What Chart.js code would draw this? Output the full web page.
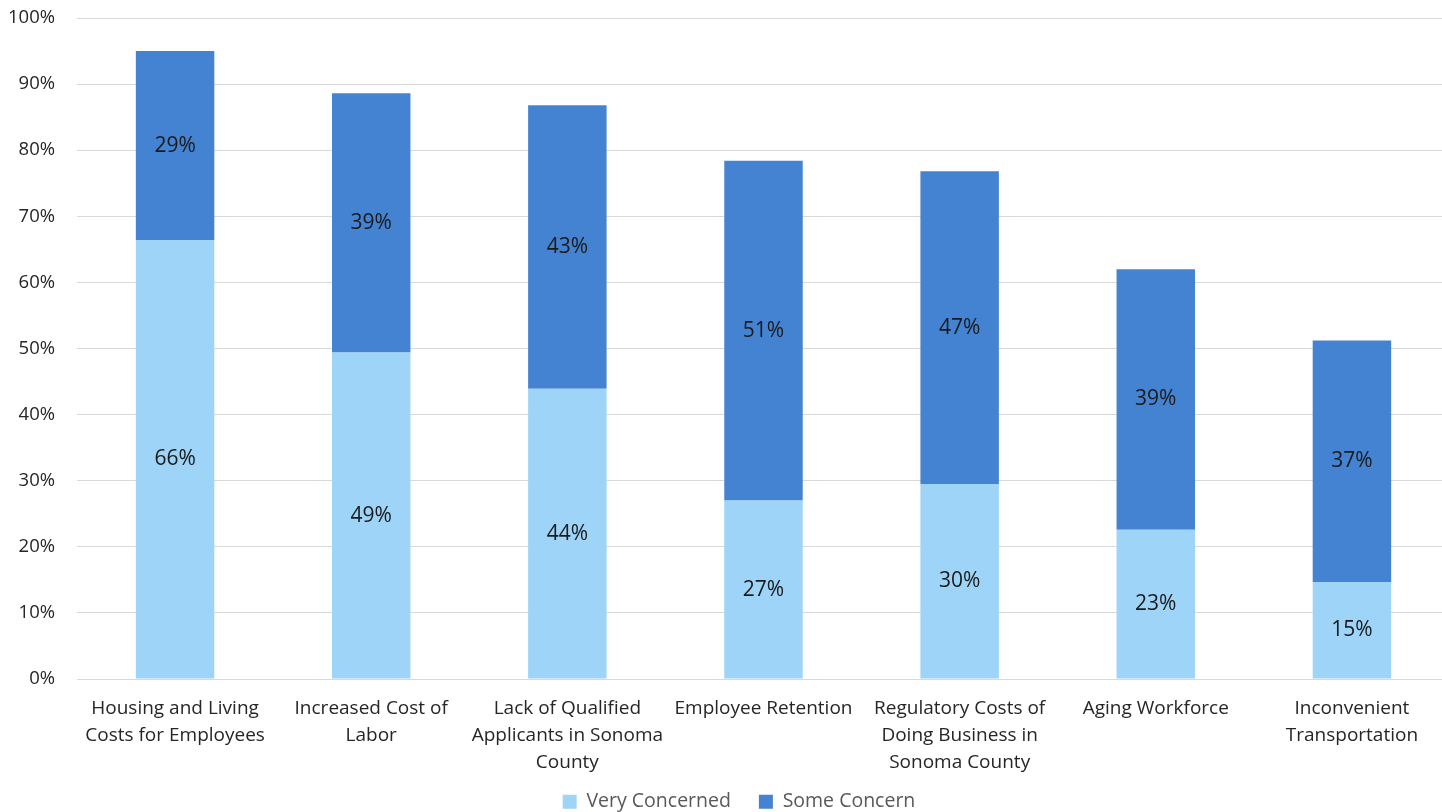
<!DOCTYPE html>
<html>
<head>
<meta charset="utf-8">
<script src="https://cdn.jsdelivr.net/npm/chart.js@4"></script>
<style>
  html, body { margin: 0; padding: 0; background: #fff; overflow: hidden; }
  #wrap { width: 1450px; height: 812px; position: relative; }
</style>
</head>
<body>
<div id="wrap"><canvas id="chart"></canvas></div>
<script>
const categories = [
  ['Housing and Living', 'Costs for Employees'],
  ['Increased Cost of', 'Labor'],
  ['Lack of Qualified', 'Applicants in Sonoma', 'County'],
  ['Employee Retention'],
  ['Regulatory Costs of', 'Doing Business in', 'Sonoma County'],
  ['Aging Workforce'],
  ['Inconvenient', 'Transportation']
];
const veryConcerned = [66.4, 49.4, 43.9, 27.0, 29.5, 22.6, 14.7];
const someConcern = [28.6, 39.2, 42.9, 51.4, 47.3, 39.4, 36.5];
const yTicks = [0, 10, 20, 30, 40, 50, 60, 70, 80, 90, 100];

const FONT = '"Open Sans", sans-serif';

// draws the percentage in the middle of each bar segment
const segmentLabels = {
  id: 'segmentLabels',
  afterDatasetsDraw(chart) {
    const ctx = chart.ctx;
    ctx.save();
    ctx.font = '21px ' + FONT;
    ctx.fillStyle = '#1a1a1a';
    ctx.textAlign = 'center';
    ctx.textBaseline = 'middle';
    chart.data.datasets.forEach((ds, i) => {
      chart.getDatasetMeta(i).data.forEach((bar, j) => {
        ctx.fillText(Math.round(ds.data[j]) + '%', bar.x, (bar.y + bar.base) / 2);
      });
    });
    ctx.restore();
  }
};

// legend padding sets both the gap between items and the space around the row;
// keep the wide gap but take less height, then nudge the row into place
const tightLegend = {
  id: 'tightLegend',
  afterInit(chart) {
    const legend = chart.legend;
    if (!legend) return;
    const fit = legend.fit.bind(legend);
    legend.fit = function () {
      fit();
      this.height -= 21.5;
    };
  },
  afterLayout(chart) {
    const legend = chart.legend;
    if (!legend) return;
    legend.top -= 12;
    legend.left += 10;
    legend.right += 10;
  }
};

new Chart(document.getElementById('chart'), {
  type: 'bar',
  data: {
    labels: categories,
    datasets: [
      { label: 'Very Concerned', data: veryConcerned, backgroundColor: '#9dd4f7' },
      { label: 'Some Concern', data: someConcern, backgroundColor: '#4483d1' }
    ]
  },
  options: {
    responsive: true,
    maintainAspectRatio: false,
    animation: false,
    layout: { padding: { top: 18, left: 8, right: 0, bottom: 0 } },
    datasets: { bar: { barPercentage: 0.4, categoryPercentage: 1 } },
    plugins: {
      legend: {
        position: 'bottom',
        labels: {
          boxWidth: 14,
          boxHeight: 14,
          padding: 28,
          color: '#595959',
          font: { family: FONT, size: 19.5 }
        }
      },
      tooltip: { enabled: false }
    },
    scales: {
      x: {
        stacked: true,
        grid: { display: false },
        border: { display: false },
        ticks: {
          color: '#262626',
          font: { family: FONT, size: 19, lineHeight: 1.42 },
          maxRotation: 0,
          autoSkip: false,
          padding: 8
        },
        afterFit: s => { s.height -= 8; }
      },
      y: {
        stacked: true,
        min: 0,
        max: 100,
        afterBuildTicks: axis => { axis.ticks = yTicks.map(v => ({ value: v })); },
        grid: { color: '#d9d9d9', lineWidth: 1, drawTicks: false },
        border: { display: false },
        ticks: {
          color: '#262626',
          font: { family: FONT, size: 18.5 },
          padding: 22,
          callback: v => v + '%'
        },
        afterFit: s => {
          s.width = 69;
          s.paddingTop = 0;
          s.paddingBottom = 0;
        }
      }
    }
  },
  plugins: [segmentLabels, tightLegend]
});
</script>
</body>
</html>
